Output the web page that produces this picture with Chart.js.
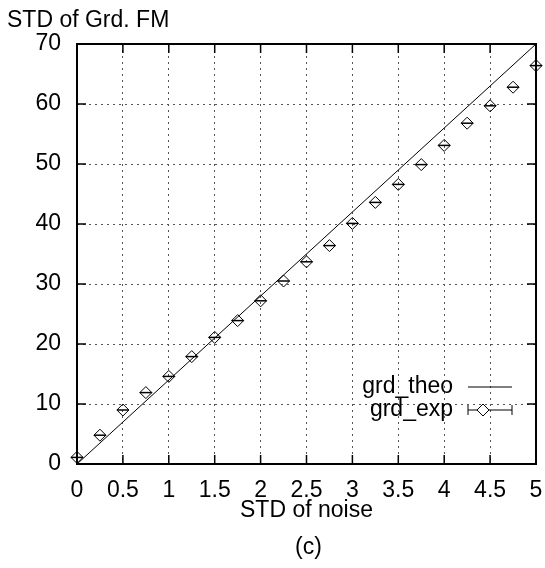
<!DOCTYPE html>
<html>
<head>
<meta charset="utf-8">
<script src="https://cdn.jsdelivr.net/npm/chart.js@4"></script>
<style>
  html, body { margin: 0; padding: 0; background: #fff; }
  #wrap { position: relative; width: 545px; height: 568px; }
</style>
</head>
<body>
<div id="wrap"><canvas id="chart_grd"></canvas></div>
<script>
// values
var noiseStd = [0, 0.25, 0.5, 0.75, 1, 1.25, 1.5, 1.75, 2, 2.25, 2.5, 2.75, 3, 3.25, 3.5, 3.75, 4, 4.25, 4.5, 4.75, 5];
var grdExp = [1.1, 4.8, 9.0, 11.9, 14.6, 17.9, 21.1, 23.9, 27.2, 30.5, 33.7, 36.4, 40.1, 43.6, 46.6, 49.9, 53.1, 56.8, 59.7, 62.8, 66.4];
var theoX = [0, 5];
var theoY = [0, 70];
var xTicks = [0, 0.5, 1, 1.5, 2, 2.5, 3, 3.5, 4, 4.5, 5];
var yTicks = [0, 10, 20, 30, 40, 50, 60, 70];

var FONT = "'Liberation Sans', Arial, sans-serif";
var FSIZE = 23;

function pts(xs, ys) {
    return xs.map(function (x, i) { return { x: x, y: ys[i] }; });
}

var gnuplotFrame = {
    id: 'gnuplotFrame',
    beforeDraw: function (chart) {
        var ctx = chart.ctx;
        ctx.save();
        ctx.fillStyle = 'white';
        ctx.fillRect(0, 0, chart.width, chart.height);
        ctx.restore();
    },
    afterDraw: function (chart) {
        var ctx = chart.ctx;
        var a = chart.chartArea;
        var xs = chart.scales.x, ys = chart.scales.y;
        var tl = 9;
        ctx.save();
        ctx.strokeStyle = '#000';
        ctx.lineWidth = 1.5;
        ctx.beginPath();
        xTicks.forEach(function (v) {
            var px = xs.getPixelForValue(v);
            ctx.moveTo(px, a.bottom); ctx.lineTo(px, a.bottom - tl);
            ctx.moveTo(px, a.top); ctx.lineTo(px, a.top + tl);
        });
        yTicks.forEach(function (v) {
            var py = ys.getPixelForValue(v);
            ctx.moveTo(a.left, py); ctx.lineTo(a.left + tl, py);
            ctx.moveTo(a.right, py); ctx.lineTo(a.right - tl, py);
        });
        ctx.stroke();
        ctx.lineWidth = 2;
        ctx.strokeRect(a.left, a.top, a.right - a.left, a.bottom - a.top);

        // axis titles and caption
        ctx.fillStyle = '#000';
        ctx.font = FSIZE + 'px ' + FONT;
        ctx.textBaseline = 'middle';
        ctx.textAlign = 'left';
        ctx.fillText('STD of Grd. FM', 7, 21);
        ctx.textAlign = 'center';
        var cx = (a.left + a.right) / 2;
        ctx.fillText('STD of noise', cx, 511);
        ctx.fillText('(c)', cx + 2, 548);

        // legend, gnuplot style
        ctx.textAlign = 'right';
        ctx.fillText(chart.data.datasets[0].label, 453, 387);
        ctx.fillText(chart.data.datasets[1].label, 453, 410);
        ctx.lineWidth = 1;
        ctx.beginPath();
        ctx.moveTo(468, 387); ctx.lineTo(512, 387);
        ctx.moveTo(468, 410); ctx.lineTo(512, 410);
        ctx.moveTo(468, 405); ctx.lineTo(468, 415);
        ctx.moveTo(512, 405); ctx.lineTo(512, 415);
        ctx.stroke();
        ctx.beginPath();
        ctx.moveTo(483, 404); ctx.lineTo(489, 410); ctx.lineTo(483, 416); ctx.lineTo(477, 410); ctx.closePath();
        ctx.fillStyle = '#fff';
        ctx.fill();
        ctx.stroke();
        ctx.restore();
    }
};

var chart_grd = new Chart(document.getElementById('chart_grd'), {
    type: 'scatter',
    data: {
        datasets: [
            {
                label: 'grd_theo',
                data: pts(theoX, theoY),
                showLine: true,
                borderColor: '#000',
                borderWidth: 1,
                pointRadius: 0,
                fill: false
            },
            {
                label: 'grd_exp',
                data: pts(noiseStd, grdExp),
                showLine: false,
                clip: false,
                pointStyle: 'rectRot',
                pointRadius: 6,
                pointBorderWidth: 1,
                borderColor: '#000',
                backgroundColor: 'rgba(0,0,0,0)'
            },
            {
                label: 'grd_exp_bar',
                data: pts(noiseStd, grdExp),
                showLine: false,
                clip: false,
                pointStyle: 'line',
                pointRadius: 6,
                pointBorderWidth: 1.5,
                borderColor: '#000'
            }
        ]
    },
    options: {
        animation: false,
        responsive: true,
        maintainAspectRatio: false,
        layout: { padding: { top: 44, right: 9, left: 0, bottom: 0 } },
        plugins: {
            legend: { display: false },
            tooltip: { enabled: false }
        },
        scales: {
            x: {
                type: 'linear',
                min: 0,
                max: 5,
                afterFit: function (s) { s.height = 104; s.paddingLeft = 0; s.paddingRight = 0; },
                afterBuildTicks: function (s) { s.ticks = xTicks.map(function (v) { return { value: v }; }); },
                ticks: {
                    color: '#000',
                    padding: 13,
                    maxRotation: 0,
                    font: { family: FONT, size: FSIZE },
                    callback: function (v) { return String(v); }
                },
                grid: { color: '#555', lineWidth: 1, drawTicks: false },
                border: { display: false, dash: [2, 4] }
            },
            y: {
                type: 'linear',
                min: 0,
                max: 70,
                afterFit: function (s) { s.width = 77; s.paddingTop = 0; s.paddingBottom = 0; },
                afterBuildTicks: function (s) { s.ticks = yTicks.map(function (v) { return { value: v }; }); },
                ticks: {
                    color: '#000',
                    padding: 16,
                    font: { family: FONT, size: FSIZE },
                    callback: function (v) { return String(v); }
                },
                grid: { color: '#555', lineWidth: 1, drawTicks: false },
                border: { display: false, dash: [2, 4] }
            }
        }
    },
    plugins: [gnuplotFrame]
});
</script>
</body>
</html>
